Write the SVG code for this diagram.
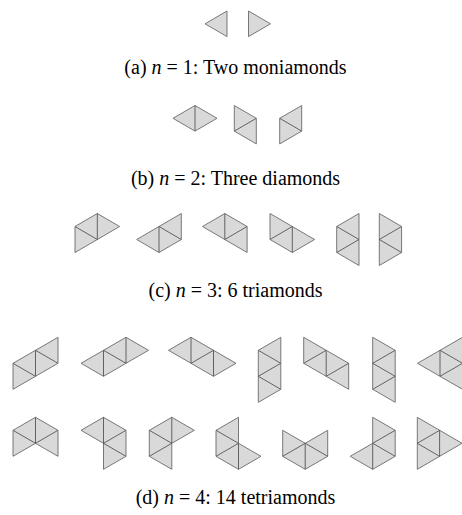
<svg xmlns="http://www.w3.org/2000/svg" width="462" height="515" viewBox="0 0 462 515">
<style>
.sh polygon{fill:#d9d9d9;stroke:#6a6a6a;stroke-width:0.9;stroke-linejoin:round}
.sh path{fill:none;stroke:#555;stroke-width:0.9}
.cap{font-family:"Liberation Serif","DejaVu Serif",serif;font-size:20px;fill:#000;text-anchor:middle}
.cap tspan.m{font-style:italic}
</style>
<rect width="462" height="515" fill="#fff"/>
<g id="a1" class="sh"><polygon points="205,23.8 227,11 227,36.6"/></g>
<g id="a2" class="sh"><polygon points="248.5,11 270.5,23.8 248.5,36.6"/></g>
<text id="capa" class="cap" x="235.5" y="74">(a) <tspan class="m">n</tspan> = 1: Two moniamonds</text>

<g id="b1" class="sh"><polygon points="173,118.3 195,105.5 217,118.3 195,131.1"/><path d="M195,105.5V131.1"/></g>
<g id="b2" class="sh"><polygon points="234.3,105.5 256.3,118.3 256.3,143.9 234.3,131.1"/><path d="M234.3,131.1L256.3,118.3"/></g>
<g id="b3" class="sh"><polygon points="301.7,105.5 301.7,131.1 279.7,143.9 279.7,118.3"/><path d="M279.7,118.3L301.7,131.1"/></g>
<text id="capb" class="cap" x="235.5" y="185">(b) <tspan class="m">n</tspan> = 2: Three diamonds</text>

<g id="c1" class="sh"><polygon points="97.3,213.5 119.6,226.5 97.3,239.5 75,252.5 75,226.5"/><path d="M97.3,213.5V239.5M75,226.5L97.3,239.5"/></g>
<g id="c2" class="sh"><polygon points="136.7,239.5 159,226.5 181.3,213.5 181.3,239.5 159,252.5"/><path d="M159,226.5V252.5M159,226.5L181.3,239.5"/></g>
<g id="c3" class="sh"><polygon points="202.5,226.5 224.8,213.5 247.1,226.5 247.1,252.5 224.8,239.5"/><path d="M224.8,213.5V239.5L247.1,226.5"/></g>
<g id="c4" class="sh"><polygon points="270,213.5 292.3,226.5 314.6,239.5 292.3,252.5 270,239.5"/><path d="M270,239.5L292.3,226.5V252.5"/></g>
<g id="c5" class="sh"><polygon points="359,213.5 359,265.5 336.7,252.5 336.7,226.5"/><path d="M336.7,226.5L359,239.5L336.7,252.5"/></g>
<g id="c6" class="sh"><polygon points="379.3,213.5 401.6,226.5 401.6,252.5 379.3,265.5"/><path d="M401.6,226.5L379.3,239.5L401.6,252.5"/></g>
<text id="capc" class="cap" x="235.5" y="297">(c) <tspan class="m">n</tspan> = 3: 6 triamonds</text>

<g id="d1" class="sh"><polygon points="13,363.3 35.5,350.3 58,337.3 58,363.3 35.5,376.3 13,389.3"/><path d="M13,363.3L35.5,376.3M35.5,350.3V376.3M35.5,350.3L58,363.3"/></g>
<g id="d2" class="sh"><polygon points="81,363.3 103.5,350.3 126,337.3 148.5,350.3 126,363.3 103.5,376.3"/><path d="M103.5,350.3V376.3M103.5,350.3L126,363.3M126,337.3V363.3"/></g>
<g id="d3" class="sh"><polygon points="168.5,350.3 191,337.3 213.5,350.3 236,363.3 213.5,376.3 191,363.3"/><path d="M191,337.3V363.3L213.5,350.3V376.3"/></g>
<g id="d4" class="sh"><polygon points="258.3,350.3 280.8,337.3 280.8,389.3 258.3,402.3"/><path d="M258.3,350.3L280.8,363.3L258.3,376.3L280.8,389.3"/></g>
<g id="d5" class="sh"><polygon points="303.7,337.3 326.2,350.3 348.7,363.3 348.7,389.3 326.2,376.3 303.7,363.3"/><path d="M303.7,363.3L326.2,350.3V376.3L348.7,363.3"/></g>
<g id="d6" class="sh"><polygon points="372.7,337.3 395.2,350.3 395.2,402.3 372.7,389.3"/><path d="M395.2,350.3L372.7,363.3L395.2,376.3L372.7,389.3"/></g>
<g id="d7" class="sh"><polygon points="417.5,363.3 462.5,337.3 462.5,389.3"/><path d="M440,350.3V376.3L462.5,363.3Z"/></g>

<g id="e1" class="sh"><polygon points="35.5,417.3 58,430.3 58,456.3 35.5,443.3 13,456.3 13,430.3"/><path d="M35.5,417.3V443.3M13,430.3L35.5,443.3L58,430.3"/></g>
<g id="e2" class="sh"><polygon points="81,430.3 103.5,417.3 126,430.3 126,456.3 103.5,469.3 103.5,443.3"/><path d="M103.5,417.3V443.3M126,430.3L103.5,443.3L126,456.3"/></g>
<g id="e3" class="sh"><polygon points="149.3,430.3 171.8,417.3 194.3,430.3 171.8,443.3 171.8,469.3 149.3,456.3"/><path d="M171.8,417.3V443.3M149.3,430.3L171.8,443.3L149.3,456.3"/></g>
<g id="e4" class="sh"><polygon points="216,430.3 238.5,417.3 238.5,443.3 261,456.3 238.5,469.3 216,456.3"/><path d="M216,430.3L238.5,443.3L216,456.3M238.5,443.3V469.3"/></g>
<g id="e5" class="sh"><polygon points="282.7,430.3 305.2,443.3 327.7,430.3 327.7,456.3 305.2,469.3 282.7,456.3"/><path d="M282.7,456.3L305.2,443.3L327.7,456.3M305.2,443.3V469.3"/></g>
<g id="e6" class="sh"><polygon points="372.7,417.3 395.2,430.3 395.2,456.3 372.7,469.3 350.2,456.3 372.7,443.3"/><path d="M395.2,430.3L372.7,443.3L395.2,456.3M372.7,443.3V469.3"/></g>
<g id="e7" class="sh"><polygon points="417.3,417.3 462,443.3 417.3,469.3"/><path d="M439.6,430.3V456.3L417.3,443.3Z"/></g>
<text id="capd" class="cap" x="235.5" y="504">(d) <tspan class="m">n</tspan> = 4: 14 tetriamonds</text>
</svg>
